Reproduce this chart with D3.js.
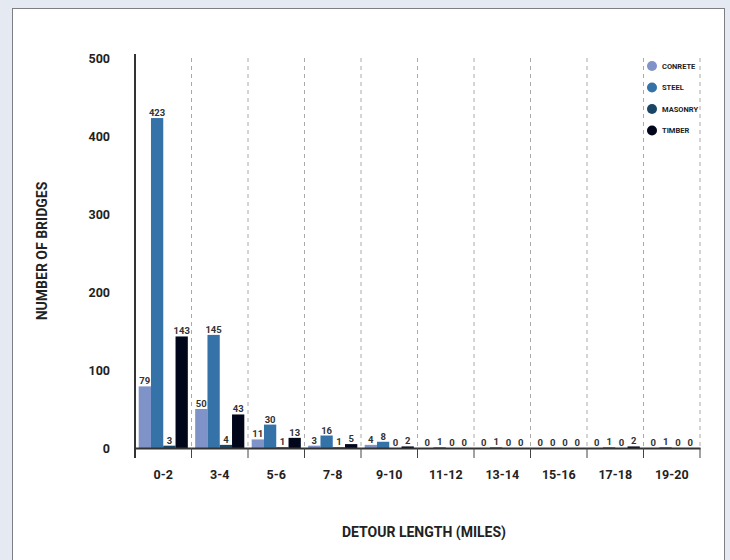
<!DOCTYPE html>
<html>
<head>
<meta charset="utf-8">
<script src="https://cdn.jsdelivr.net/npm/d3@7"></script>
<style>
  body { margin: 0; background: #e4e9f2; }
  svg text { font-family: "Roboto", "Liberation Sans", sans-serif; font-weight: bold; fill: #222; }
</style>
</head>
<body>
<div id="chart"></div>
<script>
const categories = ["0-2", "3-4", "5-6", "7-8", "9-10", "11-12", "13-14", "15-16", "17-18", "19-20"]
const seriesNames = ["CONRETE", "STEEL", "MASONRY", "TIMBER"]
const concrete = [79, 50, 11, 3, 4, 0, 0, 0, 0, 0]
const steel = [423, 145, 30, 16, 8, 1, 1, 0, 1, 1]
const masonry = [3, 4, 1, 1, 0, 0, 0, 0, 0, 0]
const timber = [143, 43, 13, 5, 2, 0, 0, 0, 2, 0]
const yTicks = [0, 100, 200, 300, 400, 500]
const colors = ["#7f93c9", "#3572a8", "#1a4565", "#02061a"]

const series = [concrete, steel, masonry, timber]
const width = 730, height = 560
const margin = {left: 135, right: 30, top: 58, bottom: 112}

const svg = d3.select("#chart").append("svg")
    .attr("width", width)
    .attr("height", height)

// white panel
svg.append("rect")
    .attr("x", 12.5).attr("y", 8.5)
    .attr("width", 712).attr("height", 560)
    .attr("fill", "#fff")
    .attr("stroke", "#7d7f85")

const x = d3.scaleBand()
    .domain(categories)
    .range([margin.left, 700])
    .paddingInner(0)
    .paddingOuter(0)

const x1 = d3.scaleBand()
    .domain(seriesNames)
    .range([0, x.bandwidth()])
    .paddingOuter(0.3)

const y = d3.scaleLinear()
    .domain([0, 500])
    .range([448, margin.top])

// dashed separators
svg.append("g").selectAll("line")
    .data(categories)
    .join("line")
    .attr("x1", d => x(d) + x.bandwidth())
    .attr("x2", d => x(d) + x.bandwidth())
    .attr("y1", y(500))
    .attr("y2", y(0))
    .attr("stroke", "#aaa")
    .attr("stroke-dasharray", "4,4")

// bars
const groups = svg.append("g").selectAll("g")
    .data(categories)
    .join("g")
    .attr("transform", d => "translate(" + x(d) + ",0)")

groups.selectAll("rect")
    .data((c, i) => series.map((s, k) => ({name: seriesNames[k], v: s[i], k: k})))
    .join("rect")
    .attr("x", d => x1(d.name))
    .attr("width", x1.bandwidth())
    .attr("y", d => y(d.v))
    .attr("height", d => y(0) - y(d.v))
    .attr("fill", d => colors[d.k])

groups.selectAll("text")
    .data((c, i) => series.map((s, k) => ({name: seriesNames[k], v: s[i], k: k})))
    .join("text")
    .attr("x", d => x1(d.name) + x1.bandwidth() / 2)
    .attr("y", d => y(d.v) - 2)
    .attr("text-anchor", "middle")
    .style("font-size", "9.5px")
    .style("fill", "#333")
    .text(d => d.v)

// x axis
const xAxis = d3.axisBottom(x).tickSize(0).tickPadding(22)
const gx = svg.append("g")
    .attr("transform", "translate(0," + y(0) + ")")
    .call(xAxis)
gx.select(".domain").attr("stroke", "#333").attr("stroke-width", 2)
gx.selectAll("text").style("font-size", "12.5px")
gx.append("g").selectAll("line")
    .data([margin.left].concat(categories.map(d => x(d) + x.bandwidth())))
    .join("line")
    .attr("x1", d => d).attr("x2", d => d)
    .attr("y1", 0).attr("y2", 10)
    .attr("stroke", "#444")

// y axis
const yAxis = d3.axisLeft(y).tickValues(yTicks).tickSize(0).tickPadding(25)
const gy = svg.append("g")
    .attr("transform", "translate(" + margin.left + ",0)")
    .call(yAxis)
gy.select(".domain").remove()
gy.append("line")
    .attr("y1", y(500) - 4).attr("y2", y(0) + 10)
    .attr("stroke", "#333").attr("stroke-width", 2)
gy.selectAll("text").style("font-size", "12.5px")

// axis titles
svg.append("text")
    .attr("transform", "translate(47," + 251 + ") rotate(-90)")
    .attr("text-anchor", "middle")
    .style("font-size", "14px")
    .text("NUMBER OF BRIDGES")

svg.append("text")
    .attr("x", 424).attr("y", 537)
    .attr("text-anchor", "middle")
    .style("font-size", "14px")
    .text("DETOUR LENGTH (MILES)")

// legend
const legend = svg.append("g").selectAll("g")
    .data(seriesNames)
    .join("g")
    .attr("transform", (d, i) => "translate(652," + (66 + i * 21.5) + ")")
legend.append("circle")
    .attr("r", 5)
    .attr("fill", (d, i) => colors[i])
legend.append("text")
    .attr("x", 10).attr("dy", "0.35em")
    .style("font-size", "7.5px")
    .text(d => d)
</script>
</body>
</html>
